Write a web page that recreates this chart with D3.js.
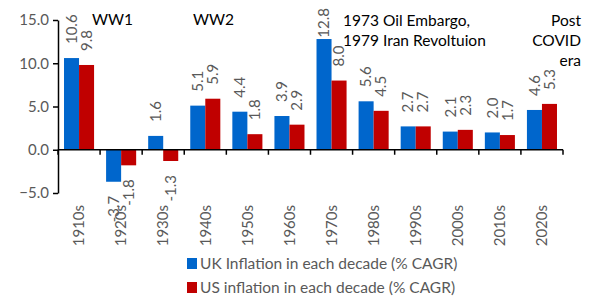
<!DOCTYPE html>
<html>
<head>
<meta charset="utf-8">
<script src="https://cdn.jsdelivr.net/npm/d3@7"></script>
<style>
  body { margin: 0; background: #fff; }
  text { font-family: Lato, "Liberation Sans", sans-serif; }
</style>
</head>
<body>
<div id="chart"></div>
<script>
// Data
const decades = ["1910s", "1920s", "1930s", "1940s", "1950s", "1960s", "1970s", "1980s", "1990s", "2000s", "2010s", "2020s"];
const ukInflation = [10.6, -3.7, 1.6, 5.1, 4.4, 3.9, 12.8, 5.6, 2.7, 2.1, 2.0, 4.6];
const usInflation = [9.8, -1.8, -1.3, 5.9, 1.8, 2.9, 8.0, 4.5, 2.7, 2.3, 1.7, 5.3];
const seriesNames = ["UK Inflation in each decade (% CAGR)", "US inflation in each decade (% CAGR)"];
const yTicks = [-5, 0, 5, 10, 15];

const COLORS = ["#0066CC", "#C00000"];
const FRAME_WIDTH = 604;
const FRAME_HEIGHT = 300;
const MARGINS = {left: 58, right: 41, top: 20, bottom: 107};

const svg = d3.select("#chart")
  .append("svg")
    .attr("width", FRAME_WIDTH)
    .attr("height", FRAME_HEIGHT);

const x = d3.scaleBand()
  .domain(decades)
  .range([MARGINS.left, FRAME_WIDTH - MARGINS.right])
  .paddingInner(0).paddingOuter(0);

const xSub = d3.scaleBand()
  .domain([0, 1])
  .range([0, x.bandwidth()])
  .paddingInner(0).paddingOuter(0.4);

const y = d3.scaleLinear()
  .domain([-5, 15])
  .range([FRAME_HEIGHT - MARGINS.bottom, MARGINS.top]);

// rows of bar data
const rows = [];
decades.forEach((d, i) => {
  rows.push({decade: d, s: 0, v: ukInflation[i]});
  rows.push({decade: d, s: 1, v: usInflation[i]});
});

// bars
svg.append("g").selectAll("rect")
  .data(rows)
  .enter()
  .append("rect")
    .attr("x", d => x(d.decade) + xSub(d.s))
    .attr("y", d => y(Math.max(0, d.v)))
    .attr("width", xSub.bandwidth())
    .attr("height", d => Math.abs(y(d.v) - y(0)))
    .attr("fill", d => COLORS[d.s]);

// value labels (rotated), kept inside the top of the plot like excel does
const cxOf = d => x(d.decade) + xSub(d.s) + xSub.bandwidth() / 2;
svg.append("g").selectAll("text")
  .data(rows)
  .enter()
  .append("text")
    .attr("text-anchor", d => d.v >= 0 ? "start" : "end")
    .attr("dy", "0.35em")
    .attr("font-size", 15)
    .attr("fill", "#595959")
    .text(d => d.v.toFixed(1))
    .attr("transform", function(d) {
      let cy = d.v >= 0 ? y(d.v) - 14 : y(d.v) + 14;
      if (d.v >= 0) {
        const len = this.getComputedTextLength();
        if (cy - len < 8) cy = 8 + len;
      }
      return `translate(${cxOf(d)},${cy}) rotate(-90)`;
    });

// y axis
const yAxis = svg.append("g")
  .attr("transform", `translate(${MARGINS.left},0)`)
  .call(d3.axisLeft(y).tickValues(yTicks).tickFormat(d3.format(".1f")).tickSize(5).tickSizeOuter(0));
yAxis.select(".domain").attr("stroke", "#000").attr("stroke-width", 1.5);
yAxis.selectAll(".tick line").attr("stroke", "#000").attr("stroke-width", 1.5);
yAxis.selectAll(".tick text")
  .attr("font-size", 15)
  .attr("fill", "#595959")
  .attr("font-family", "Lato, sans-serif")
  .attr("x", -9);

// x axis at zero
const xAxisG = svg.append("g")
  .attr("transform", `translate(0,${y(0)})`);
xAxisG.append("line")
  .attr("x1", x.range()[0]).attr("x2", x.range()[1])
  .attr("stroke", "#000").attr("stroke-width", 1.5);
xAxisG.selectAll(".xt")
  .data(decades.concat(["end"]))
  .enter()
  .append("line")
    .attr("x1", (d, i) => x.range()[0] + i * x.step())
    .attr("x2", (d, i) => x.range()[0] + i * x.step())
    .attr("y1", 0).attr("y2", 5)
    .attr("stroke", "#000").attr("stroke-width", 1.5);

// category labels (rotated)
svg.append("g").selectAll("text")
  .data(decades)
  .enter()
  .append("text")
    .attr("transform", d => `translate(${x(d) + x.bandwidth() / 2},205) rotate(-90)`)
    .attr("text-anchor", "end")
    .attr("dy", "0.35em")
    .attr("font-size", 15)
    .attr("fill", "#595959")
    .text(d => d);

// annotations
const notes = [
  {x: 92, y: 25, anchor: "start", lines: ["WW1"]},
  {x: 193, y: 25, anchor: "start", lines: ["WW2"]},
  {x: 343, y: 26, anchor: "start", lines: ["1973 Oil Embargo,", "1979 Iran Revoltuion"]},
  {x: 581, y: 26, anchor: "end", lines: ["Post", "COVID", "era"]}
];
notes.forEach(n => {
  const t = svg.append("text")
    .attr("x", n.x).attr("y", n.y)
    .attr("text-anchor", n.anchor)
    .attr("font-size", 15.5)
    .attr("fill", "#000");
  n.lines.forEach((l, i) => {
    t.append("tspan").attr("x", n.x).attr("dy", i === 0 ? 0 : 20).text(l);
  });
});

// legend
const legend = svg.append("g");
seriesNames.forEach((name, i) => {
  legend.append("rect")
    .attr("x", 187).attr("y", 258 + i * 24)
    .attr("width", 10).attr("height", 11)
    .attr("fill", COLORS[i]);
  legend.append("text")
    .attr("x", 200).attr("y", 269 + i * 23.5)
    .attr("font-size", 15.5)
    .attr("fill", "#595959")
    .text(name);
});
</script>
</body>
</html>
